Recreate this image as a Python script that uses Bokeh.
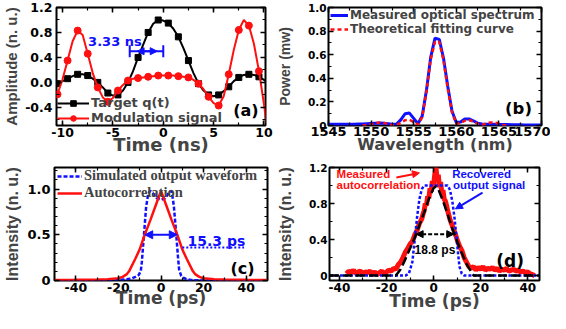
import numpy as np
from bokeh.plotting import figure
from bokeh.layouts import column, row
from bokeh.models import (Range1d, FixedTicker, LinearAxis, Legend, LegendItem,
                          Label, Arrow, NormalHead, TeeHead)
from bokeh.embed import file_html
from bokeh.resources import INLINE

# ---------------- data: panel (a) ----------------
a_time = [-10.5, -10.0, -9.5, -9.0, -8.5, -8.0, -7.5, -7.0, -6.5, -6.0, -5.5, -5.0, -4.5, -4.0,
          -3.5, -3.0, -2.5, -2.0, -1.5, -1.0, -0.5, 0.0, 0.5, 1.0, 1.5, 2.0, 2.5, 3.0, 3.5, 4.0,
          4.5, 5.0, 5.5, 6.0, 6.5, 7.0, 7.5, 8.0, 8.5, 9.0, 9.5, 10.0, 10.5]
a_target = [-0.02, 0.02, 0.06, 0.10, 0.13, 0.13, 0.11, 0.06, 0.00, -0.08, -0.17, -0.21, -0.20, -0.13,
            0.00, 0.18, 0.40, 0.60, 0.80, 0.94, 1.00, 0.99, 0.95, 0.86, 0.73, 0.55, 0.35, 0.15, -0.02, -0.13,
            -0.20, -0.22, -0.20, -0.14, -0.07, 0.02, 0.08, 0.12, 0.13, 0.12, 0.09, 0.04, -0.01]
a_modulation = [-0.19, 0.05, 0.35, 0.66, 0.83, 0.76, 0.46, 0.15, -0.08, -0.24, -0.31, -0.25, -0.13, -0.04,
                0.03, 0.06, 0.07, 0.08, 0.09, 0.10, 0.11, 0.11, 0.11, 0.11, 0.10, 0.09, 0.08, 0.04, -0.02, -0.11,
                -0.23, -0.33, -0.37, -0.22, 0.13, 0.52, 0.84, 1.00, 0.91, 0.62, 0.18, -0.35, -0.95]
a_xticks = [-10, -5, 0, 5, 10]
a_xlabels = ["-10", "-5", "0", "5", "10"]
a_yticks = [-0.4, 0.0, 0.4, 0.8, 1.2]
a_ylabels = ["-0.4", "0.0", "0.4", "0.8", "1.2"]

# ---------------- data: panel (b) ----------------
b_wl = [1545.0, 1545.5, 1546.0, 1546.5, 1547.0, 1547.5, 1548.0, 1548.5, 1549.0, 1549.5, 1550.0,
        1550.5, 1551.0, 1551.5, 1552.0, 1552.5, 1553.0, 1553.5, 1554.0, 1554.5, 1555.0, 1555.5,
        1556.0, 1556.5, 1557.0, 1557.5, 1558.0, 1558.5, 1559.0, 1559.5, 1560.0, 1560.5, 1561.0,
        1561.5, 1562.0, 1562.5, 1563.0, 1563.5, 1564.0, 1564.5, 1565.0, 1565.5, 1566.0, 1566.5,
        1567.0, 1567.5, 1568.0, 1568.5, 1569.0, 1569.5, 1570.0]
b_measured = [0.01, 0.01, 0.01, 0.01, 0.01, 0.01, 0.01, 0.012, 0.012, 0.015, 0.018,
              0.02, 0.022, 0.02, 0.015, 0.01, 0.012, 0.05, 0.10, 0.105, 0.06, 0.015,
              0.08, 0.30, 0.58, 0.74, 0.73, 0.57, 0.33, 0.12, 0.025, 0.03, 0.055,
              0.055, 0.04, 0.02, 0.012, 0.01, 0.01, 0.01, 0.008, 0.008, 0.008, 0.006,
              0.006, 0.006, 0.005, 0.005, 0.005, 0.005, 0.005]
b_wl_fit = [1549.0, 1549.5, 1550.0, 1550.5, 1551.0, 1551.5, 1552.0, 1552.5, 1553.0, 1553.5,
            1554.0, 1554.5, 1555.0, 1555.5, 1556.0, 1556.5, 1557.0, 1557.5, 1558.0, 1558.5,
            1559.0, 1559.5, 1560.0, 1560.5, 1561.0, 1561.5, 1562.0, 1562.5, 1563.0, 1563.5,
            1564.0, 1564.5, 1565.0, 1565.5, 1566.0]
b_fit = [0.0, 0.005, 0.012, 0.02, 0.025, 0.022, 0.012, 0.003, 0.005, 0.025,
         0.045, 0.048, 0.03, 0.008, 0.07, 0.29, 0.56, 0.71, 0.71, 0.55,
         0.31, 0.11, 0.015, 0.02, 0.04, 0.045, 0.035, 0.015, 0.005, 0.015,
         0.025, 0.025, 0.015, 0.005, 0.0]
b_xticks = [1545, 1550, 1555, 1560, 1565, 1570]
b_xlabels = ["1545", "1550", "1555", "1560", "1565", "1570"]
b_yticks = [0.0, 0.2, 0.4, 0.6, 0.8, 1.0]
b_ylabels = ["0", "0.2", "0.4", "0.6", "0.8", "1.0"]

# ---------------- data: panel (c) ----------------
c_t_auto = [-50, -40, -30, -25, -20, -18, -16, -15, -12, -10, -7.65, -5, -2.5, 0,
            2.5, 5, 7.65, 10, 12, 15, 16, 18, 20, 25, 30, 40, 50]
c_auto = [0.005, 0.007, 0.01, 0.015, 0.025, 0.04, 0.07, 0.1, 0.24, 0.34, 0.5, 0.66, 0.82, 0.98,
          0.82, 0.66, 0.5, 0.34, 0.24, 0.1, 0.07, 0.04, 0.025, 0.015, 0.01, 0.007, 0.005]
c_t_sim = [-50, -20, -14, -12, -10.5, -9.5, -9, -8, -7, -6, -5, -4, -2, 0,
           2, 4, 5, 6, 7, 8, 8.5, 9.5, 10.5, 12, 14, 20, 50]
c_sim = [0.0, 0.005, 0.02, 0.04, 0.06, 0.1, 0.2, 0.5, 0.8, 0.95, 0.98, 0.96, 0.9, 0.88,
         0.9, 0.97, 0.98, 0.82, 0.55, 0.25, 0.12, 0.05, 0.03, 0.015, 0.005, 0.0, 0.0]
c_xticks = [-40, -20, 0, 20, 40]
c_xlabels = ["-40", "-20", "0", "20", "40"]
c_yticks = [0.0, 0.5, 1.0]
c_ylabels = ["0", "0.5", "1.0"]

# ---------------- data: panel (d) ----------------
d_t_meas = [-37, -36, -35, -34, -33, -32, -31, -30, -29, -28, -27, -26, -25, -24, -23, -22, -21,
            -20, -19, -18, -17, -16, -15, -14, -13, -12, -11, -10, -9, -8, -7, -6, -5,
            -4.5, -4, -3.5, -3, -2.5, -2, -1.5, -1, -0.5, 0, 0.5, 1, 1.5, 2, 2.5, 3, 3.5, 4,
            4.5, 5, 5.5, 6, 7, 8, 9, 10, 11, 12, 13, 14, 15, 16, 17, 18, 19, 20, 21, 22, 23,
            24, 25, 26, 27, 28, 29, 30, 31, 32, 33, 34, 35, 36, 37, 38, 39, 40, 41, 42, 43]
d_meas = [0.02, 0.05, 0.03, 0.06, 0.02, 0.04, 0.05, 0.02, 0.04, 0.03, 0.05, 0.02, 0.04, 0.01,
          0.03, 0.05, 0.02, 0.04, 0.06, 0.05, 0.08, 0.07, 0.12, 0.15, 0.2, 0.26, 0.3, 0.35,
          0.38, 0.45, 0.5, 0.58, 0.63,
          0.68, 0.72, 0.8, 0.78, 0.88, 0.86, 0.97, 0.93, 1.05, 1.0, 1.12, 1.2, 1.08, 1.12,
          0.98, 1.04, 0.92, 0.95, 0.85, 0.83, 0.78, 0.72,
          0.62, 0.55, 0.48, 0.4, 0.33, 0.28, 0.2, 0.15, 0.1, 0.08, 0.1, 0.06, 0.09, 0.07,
          0.1, 0.06, 0.08, 0.07, 0.09, 0.06, 0.08, 0.05, 0.07, 0.06, 0.08, 0.05, 0.06, 0.07,
          0.05, 0.06, 0.04, 0.05, 0.03, 0.04, 0.02, 0.01, 0.0]
d_t_fit = [-44, -16, -14, -12, -10, -8, -6, -4, -2, 0, 1, 2, 4, 6, 8, 10, 12, 14, 16, 17, 45]
d_fit = [0, 0, 0.07, 0.18, 0.3, 0.42, 0.56, 0.7, 0.85, 0.97, 0.99, 0.96, 0.83, 0.68, 0.52,
         0.38, 0.25, 0.13, 0.04, 0, 0]
d_t_rec = [-44, -12, -10.5, -9, -8, -7, -6, -5, -4, 0, 6, 7, 8, 9, 10, 11, 12, 13, 45]
d_rec = [0, 0, 0.02, 0.15, 0.4, 0.65, 0.85, 0.96, 1.0, 1.0, 1.0, 0.95, 0.82, 0.62, 0.35,
         0.1, 0.02, 0, 0]
d_xticks = [-40, -20, 0, 20, 40]
d_xlabels = ["-40", "-20", "0", "20", "40"]
d_yticks = [0.0, 0.4, 0.8, 1.2]
d_ylabels = ["0", "0.4", "0.8", "1.2"]

RED = "#ff1010"
BLUE = "#1010ff"
TICKF = "DejaVu Sans"
TITLEF = "DejaVu Sans"
YTITLEF = "Liberation Sans"


def make_fig(w, h, left, right, top, bottom, xr, yr):
    p = figure(width=w, height=h, x_range=Range1d(*xr), y_range=Range1d(*yr),
               output_backend="svg", toolbar_location=None,
               min_border_left=left, min_border_right=right,
               min_border_top=top, min_border_bottom=bottom)
    p.xgrid.visible = False
    p.ygrid.visible = False
    p.outline_line_color = "black"
    p.outline_line_width = 2
    p.outline_line_alpha = 1.0
    p.background_fill_color = "white"
    p.border_fill_color = "white"
    return p


def style_ax(ax, ticker, overrides, fs, show=True):
    ax.ticker = ticker
    ax.axis_line_color = None
    ax.major_tick_in = 5
    ax.major_tick_out = 0
    ax.minor_tick_in = 3
    ax.minor_tick_out = 0
    ax.major_tick_line_width = 1.5
    ax.minor_tick_line_width = 1.2
    ax.major_tick_line_color = "black"
    ax.minor_tick_line_color = "black"
    ax.major_label_overrides = overrides
    ax.major_label_text_font = TICKF
    ax.major_label_text_font_style = "bold"
    ax.major_label_text_color = "black"
    if show:
        ax.major_label_text_font_size = fs
    else:
        ax.major_label_text_font_size = "0px"
        ax.major_label_standoff = 0


def setup_axes(p, xt, xl, xminor, yt, yl, yminor, xfs, yfs, xtitle, ytitle,
               xtfs, ytfs, xstand, ystand, xlstand=2, ylstand=3):
    xtick = FixedTicker(ticks=xt, minor_ticks=xminor)
    ytick = FixedTicker(ticks=yt, minor_ticks=yminor)
    xa = p.xaxis[0]
    ya = p.yaxis[0]
    style_ax(xa, xtick, dict(zip(xt, xl)), xfs)
    style_ax(ya, ytick, dict(zip(yt, yl)), yfs)
    xa.major_label_standoff = xlstand
    ya.major_label_standoff = ylstand
    xa.axis_label = xtitle
    xa.axis_label_text_font = TITLEF
    xa.axis_label_text_font_style = "bold"
    xa.axis_label_text_font_size = xtfs
    xa.axis_label_standoff = xstand
    ya.axis_label = ytitle
    ya.axis_label_text_font = YTITLEF
    ya.axis_label_text_font_style = "bold"
    ya.axis_label_text_font_size = ytfs
    ya.axis_label_standoff = ystand
    top = LinearAxis()
    style_ax(top, xtick, {v: "" for v in xt}, "0px", show=False)
    p.add_layout(top, "above")
    right = LinearAxis()
    style_ax(right, ytick, {v: "" for v in yt}, "0px", show=False)
    p.add_layout(right, "right")


def panel_label(p, x, y, text, size="16px", color="black", font=TITLEF, align="center"):
    p.add_layout(Label(x=x, y=y, text=text, text_font=font, text_font_style="bold",
                       text_font_size=size, text_color=color, text_align=align,
                       text_baseline="middle"))


def legend(items, loc, gw, font, size, spacing):
    return Legend(items=items, location=loc, padding=0, margin=0, spacing=spacing,
                  label_standoff=2, glyph_width=gw, glyph_height=14, label_height=14,
                  background_fill_alpha=0, border_line_alpha=0,
                  label_text_font=font, label_text_font_style="bold",
                  label_text_font_size=size)


# ======================= (a) =======================
pa = make_fig(273, 159, 54, 8, 7, 32, (-10.6, 10.15), (-0.69, 1.2))
setup_axes(pa, a_xticks, a_xlabels, list(np.arange(-10, 10.1, 2.5)),
           a_yticks, a_ylabels, list(np.arange(-0.6, 1.21, 0.2)),
           "12.5px", "12.5px", "Time (ns)", "Amplitude (n. u.)", "18px", "15px", -6, 2,
           xlstand=2, ylstand=4)
mk = slice(0, None, 2)
la1 = pa.line(a_time, a_target, line_color="black", line_width=2)
sa1 = pa.scatter(a_time[mk], a_target[mk], marker="square", size=6,
                 fill_color="black", line_color="black")
la2 = pa.line(a_time, a_modulation, line_color=RED, line_width=2)
sa2 = pa.scatter(a_time[mk], a_modulation[mk], marker="circle", size=7,
                 fill_color=RED, line_color=RED)
pa.add_layout(legend([LegendItem(label="Target q(t)", renderers=[la1, sa1]),
                      LegendItem(label="Modulation signal", renderers=[la2, sa2])],
                     (1, 0), 32, TITLEF, "13px", -2))
pa.add_layout(Arrow(x_start=-3.33, y_start=0.5, x_end=0.0, y_end=0.5,
                    start=TeeHead(size=12, line_color=BLUE, line_width=2),
                    end=TeeHead(size=12, line_color=BLUE, line_width=2),
                    line_color=BLUE, line_width=2))
pa.add_layout(Arrow(x_start=-2.6, y_start=0.5, x_end=-0.6, y_end=0.5,
                    start=NormalHead(size=7, fill_color=BLUE, line_color=BLUE),
                    end=NormalHead(size=7, fill_color=BLUE, line_color=BLUE),
                    line_color=BLUE, line_width=2))
panel_label(pa, -4.8, 0.66, "3.33 ns", size="13px", color=BLUE)
panel_label(pa, 8.2, -0.45, "(a)", size="16px")

# ======================= (b) =======================
pb = make_fig(277, 159, 54, 9, 6, 34, (1545, 1570), (0, 1.0))
setup_axes(pb, b_xticks, b_xlabels, list(np.arange(1545, 1570.1, 2.5)),
           b_yticks, b_ylabels, list(np.arange(0, 1.01, 0.1)),
           "13px", "10.5px", "Wavelength (nm)", "Power (mw)", "16px", "14px", -4, 12,
           xlstand=1, ylstand=2)
lb1 = pb.line(b_wl, b_measured, line_color=BLUE, line_width=3)
lb2 = pb.line(b_wl_fit, b_fit, line_color=RED, line_width=2.5, line_dash="4 3")
pb.add_layout(legend([LegendItem(label="Measured optical spectrum", renderers=[lb1]),
                      LegendItem(label="Theoretical fitting curve", renderers=[lb2])],
                     (2, 89), 18, TITLEF, "12px", 0))
panel_label(pb, 1567.3, 0.14, "(b)", size="16.5px")

# ======================= (c) =======================
pc = make_fig(273, 154, 54, 6, 5, 30, (-50, 50), (0, 1.235))
setup_axes(pc, c_xticks, c_xlabels, list(np.arange(-50, 50.1, 10)),
           c_yticks, c_ylabels, list(np.arange(0, 1.21, 0.1)),
           "12.5px", "13px", "Time (ps)", "Intensity (n. u.)", "17px", "16px", -7, 3,
           xlstand=2, ylstand=4)
lc1 = pc.line(c_t_sim, c_sim, line_color=BLUE, line_width=2.5, line_dash="4 2")
lc2 = pc.line(c_t_auto, c_auto, line_color=RED, line_width=2.5)
pc.add_layout(legend([LegendItem(label="Simulated output waveform", renderers=[lc1]),
                      LegendItem(label="Autocorrelation", renderers=[lc2])],
                     (3, 79), 25, "Liberation Serif", "14.5px", -6))
pc.add_layout(Arrow(x_start=-7.65, y_start=0.5, x_end=7.65, y_end=0.5,
                    start=NormalHead(size=8, fill_color=BLUE, line_color=BLUE),
                    end=NormalHead(size=8, fill_color=BLUE, line_color=BLUE),
                    line_color=BLUE, line_width=2))
pc.segment(x0=[10], y0=[0.36], x1=[39], y1=[0.36], line_color=BLUE, line_width=2,
           line_dash="2 2")
panel_label(pc, 26, 0.43, "15.3 ps", size="14px", color=BLUE)
panel_label(pc, 38.3, 0.13, "(c)", size="16px")

# ======================= (d) =======================
pd_ = make_fig(277, 154, 52, 11, 8, 33, (-44.2, 45), (-0.055, 1.2))
setup_axes(pd_, d_xticks, d_xlabels, list(np.arange(-40, 40.1, 10)),
           d_yticks, d_ylabels, list(np.arange(0, 1.21, 0.2)),
           "12px", "10.5px", "Time (ps)", "Intensity (n. u.)", "17px", "16px", -4, 12,
           xlstand=2, ylstand=2)
pd_.line(d_t_meas, d_meas, line_color=RED, line_width=5)
pd_.line(d_t_rec, d_rec, line_color=BLUE, line_width=2.5, line_dash="3 2")
pd_.line(d_t_fit, d_fit, line_color="black", line_width=2.5, line_dash="9 4")
pd_.add_layout(Arrow(x_start=-7.4, y_start=0.46, x_end=8.6, y_end=0.46,
                     start=NormalHead(size=7, fill_color="black", line_color="black"),
                     end=NormalHead(size=7, fill_color="black", line_color="black"),
                     line_color="black", line_width=2, line_dash="4 2"))
pd_.add_layout(Arrow(x_start=-15.8, y_start=1.09, x_end=-6.0, y_end=1.14,
                     end=NormalHead(size=7, fill_color=RED, line_color=RED),
                     line_color=RED, line_width=2))
pd_.add_layout(Arrow(x_start=20.8, y_start=0.92, x_end=9.3, y_end=0.74,
                     end=NormalHead(size=7, fill_color=BLUE, line_color=BLUE),
                     line_color=BLUE, line_width=2))
panel_label(pd_, -41.2, 1.13, "Measured", size="11.5px", color=RED,
            font="Liberation Sans", align="left")
panel_label(pd_, -41.2, 1.01, "autocorrelation", size="11.5px", color=RED,
            font="Liberation Sans", align="left")
panel_label(pd_, 7.9, 1.13, "Recovered", size="11.5px", color=BLUE,
            font="Liberation Sans", align="left")
panel_label(pd_, 8.3, 1.01, "output signal", size="11.5px", color=BLUE,
            font="Liberation Sans", align="left")
panel_label(pd_, 0.6, 0.28, "18.8 ps", size="12px", color="black", font="Liberation Sans")
panel_label(pd_, 32.5, 0.16, "(d)", size="17px")

layout = column(row(pa, pb, spacing=0), row(pc, pd_, spacing=0), spacing=0)

open("out.html", "w").write(file_html(layout, INLINE))
